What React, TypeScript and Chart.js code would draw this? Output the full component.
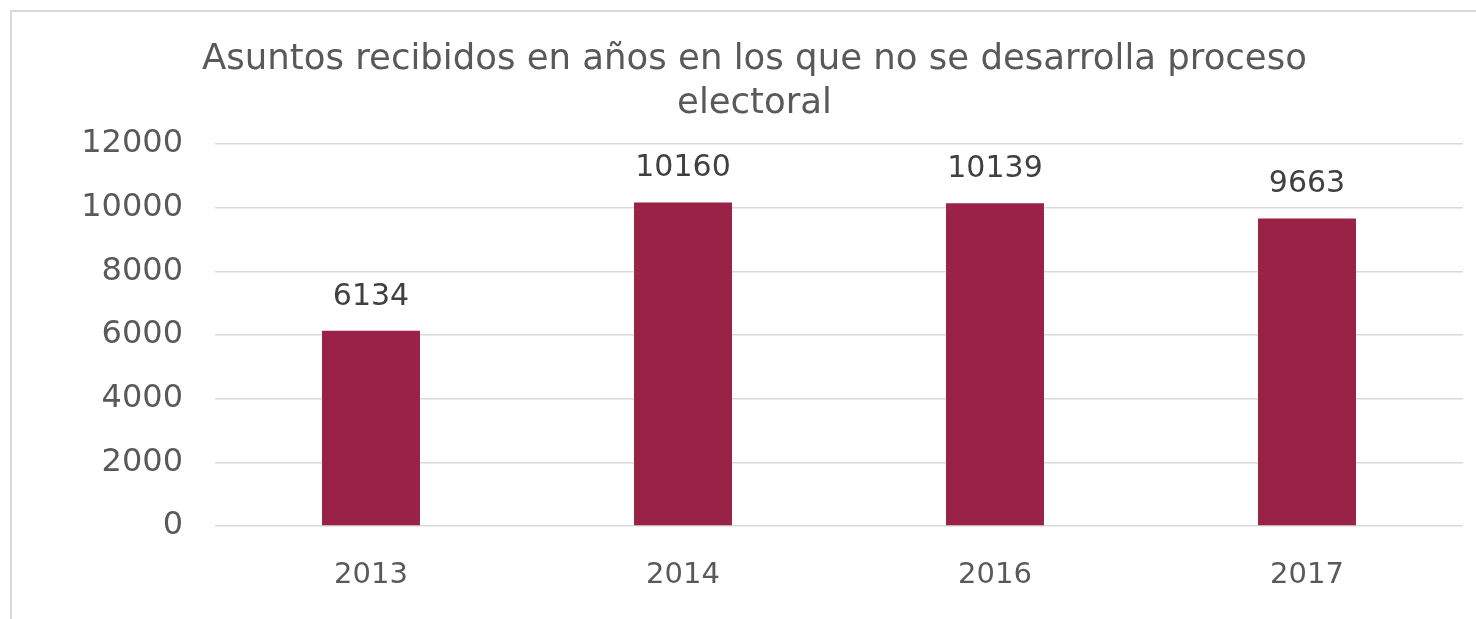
import React, { useEffect, useRef } from "react";
import { Chart, registerables } from "chart.js";

Chart.register(...registerables);

const categories = ["2013", "2014", "2016", "2017"];
const values = [6134, 10160, 10139, 9663];
const titleLines = ["Asuntos recibidos en años en los que no se desarrolla proceso", "electoral"];
const yTicks = [0, 2000, 4000, 6000, 8000, 10000, 12000];

const FONT = "'DejaVu Sans', sans-serif";
const BAR_COLOR = "#9B2247";

const dataLabelPlugin = {
  id: "dataLabels",
  afterDatasetsDraw(chart: any) {
    const ctx = chart.ctx;
    const meta = chart.getDatasetMeta(0);
    ctx.save();
    ctx.fillStyle = "#404040";
    ctx.font = `30px ${FONT}`;
    ctx.textAlign = "center";
    ctx.textBaseline = "middle";
    meta.data.forEach((bar: any, i: number) => {
      ctx.fillText(String(values[i]), bar.x, bar.y - 34);
    });
    ctx.restore();
  },
};

export default function App() {
  const ref = useRef<HTMLCanvasElement | null>(null);
  useEffect(() => {
    if (!ref.current) return;
    const chart = new Chart(ref.current, {
      type: "bar",
      data: {
        labels: categories,
        datasets: [
          {
            data: values,
            backgroundColor: BAR_COLOR,
            barPercentage: 0.628,
            categoryPercentage: 0.5,
          },
        ],
      },
      options: {
        animation: false,
        responsive: false,
        maintainAspectRatio: false,
        layout: { padding: { left: 46, right: 13, top: 38, bottom: 0 } },
        plugins: {
          legend: { display: false },
          tooltip: { enabled: false },
          title: {
            display: true,
            text: titleLines,
            color: "#595959",
            font: { family: FONT, size: 35.5, weight: "normal", lineHeight: 1.24 },
            padding: { top: 0, bottom: 18 },
          },
        },
        scales: {
          x: {
            afterFit(scale: any) {
              scale.height = 93;
            },
            grid: { display: false, drawTicks: false },
            border: { display: false },
            ticks: { color: "#595959", font: { family: FONT, size: 29 }, padding: 32 },
          },
          y: {
            min: 0,
            max: 12000,
            afterBuildTicks(scale: any) {
              scale.ticks = yTicks.map((v) => ({ value: v }));
            },
            afterFit(scale: any) {
              scale.width = 169;
            },
            grid: { color: "#d9d9d9", drawTicks: false, lineWidth: 1.5 },
            border: { display: false },
            ticks: {
              color: "#595959",
              font: { family: FONT, size: 32 },
              padding: 32,
              callback: (v: any) => String(v),
            },
          },
        },
      },
      plugins: [dataLabelPlugin],
    });
    return () => chart.destroy();
  }, []);

  return (
    <div style={{ position: "fixed", left: 0, top: 0, width: 1476, height: 619, overflow: "hidden", background: "#fff" }}>
      <div
        style={{
          position: "absolute",
          left: 10,
          top: 10,
          width: 1500,
          height: 700,
          border: "2px solid #d9d9d9",
        }}
      />
      <canvas ref={ref} width={1476} height={619} style={{ position: "absolute", left: 0, top: 0, width: 1476, height: 619 }} />
    </div>
  );
}
